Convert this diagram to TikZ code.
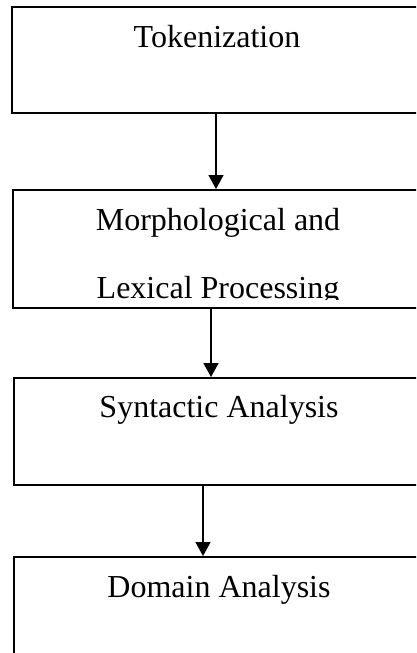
\documentclass[tikz,border=0pt]{standalone}
\usepackage{fontspec}
\setmainfont{Liberation Serif}
\usepackage{tikz}
\usetikzlibrary{positioning, arrows.meta}

\begin{document}
\begin{tikzpicture}[
  x=1pt, y=1pt,
  box/.style={draw, line width=2pt, minimum width=410pt, inner sep=0pt},
  lbl/.style={font=\fontsize{32}{68}\selectfont, align=center, anchor=base, inner sep=0pt},
  flow/.style={draw, line width=1.5pt, -{Triangle[length=14pt, width=15pt]}}
]
\useasboundingbox (0,0) rectangle (416,-653);
\clip (0,0) rectangle (416,-653);

\node[box, minimum height=106pt] (tok) at (217,-60) {};
\node[box, minimum height=118pt, below=75pt of tok, xshift=1pt] (morph) {};
\node[box, minimum height=107pt, below=68pt of morph, xshift=1pt] (syn) {};
\node[box, minimum height=120pt, below=70pt of syn] (dom) {};

\node[lbl] (toktext) at ([yshift=-41pt]tok.north) {Tokenization};
% the second line runs out of the box
\begin{scope}
  \clip (morph.north west) rectangle ([yshift=10pt]morph.south east);
  \node[lbl] (morphtext) at ([yshift=-109pt]morph.north) {Morphological and\\Lexical Processing};
\end{scope}
\node[lbl] (syntext) at ([yshift=-40pt]syn.north) {Syntactic Analysis};
\node[lbl] (domtext) at ([yshift=-41pt]dom.north) {Domain Analysis};

\draw[flow] ([xshift=-1pt]tok.south) -- ([xshift=-1pt]tok.south |- morph.north);
\draw[flow] ([xshift=-7pt]morph.south) -- ([xshift=-7pt]morph.south |- syn.north);
\draw[flow] ([xshift=-16pt]syn.south) -- ([xshift=-16pt]syn.south |- dom.north);
\end{tikzpicture}
\end{document}
